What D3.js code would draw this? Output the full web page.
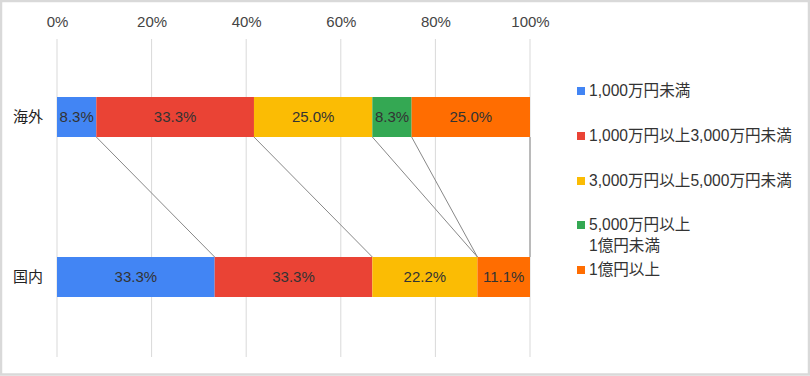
<!DOCTYPE html>
<html>
<head>
<meta charset="utf-8">
<script src="https://cdn.jsdelivr.net/npm/d3@7"></script>
<style>
  body { margin: 0; background: #fff; }
  svg { display: block; font-family: "Liberation Sans", Arial, "Noto Sans CJK JP", sans-serif; }
</style>
</head>
<body>
<svg id="chart"></svg>
<script>
// data
let categories = ['海外', '国内'];
let seriesNames = ['1,000万円未満', '1,000万円以上3,000万円未満', '3,000万円以上5,000万円未満', '5,000万円以上\n1億円未満', '1億円以上'];
let seriesColors = ['#4285f4', '#ea4335', '#fbbc04', '#34a853', '#ff6d01'];
let overseas = [8.3, 33.3, 25.0, 8.3, 25.0];
let domestic = [33.3, 33.3, 22.2, 0, 11.1];
let tickValues = [0, 20, 40, 60, 80, 100];

let svgWidth = 810;
let svgHeight = 376;

let svg = d3.select('#chart')
    .attr('width', svgWidth)
    .attr('height', svgHeight);

// outer frame
svg.append('rect')
    .attr('x', 1).attr('y', 1)
    .attr('width', svgWidth - 2).attr('height', svgHeight - 2.5)
    .attr('fill', '#fff')
    .attr('stroke', '#d9d9d9')
    .attr('stroke-width', 2.5);

let x = d3.scaleLinear().domain([0, 100]).range([57, 530]);
let y = d3.scaleBand().domain(categories)
    .range([37, 357])
    .paddingInner(0.75)
    .paddingOuter(0.375);

// build stacked rows (normalised to 100%)
let rows = [overseas, domestic].map(function(vals, i) {
    let total = d3.sum(vals);
    let acc = 0;
    return vals.map(function(v, j) {
        let s = acc;
        acc += v / total * 100;
        return {cat: categories[i], series: j, value: v, x0: s, x1: acc};
    });
});

// gridlines
svg.append('g').selectAll('line')
    .data(tickValues).enter().append('line')
    .attr('x1', d => x(d)).attr('x2', d => x(d))
    .attr('y1', 39).attr('y2', 357)
    .attr('stroke', '#d9d9d9')
    .attr('stroke-width', 1);

// top axis labels
let axsTop = d3.axisTop(x).tickValues(tickValues).tickFormat(d => d + '%').tickSize(0).tickPadding(0);
let gAxis = svg.append('g')
    .attr('transform', 'translate(0,27)')
    .call(axsTop);
gAxis.select('.domain').remove();
gAxis.selectAll('text')
    .attr('font-size', 15)
    .attr('font-family', null)
    .attr('fill', '#444');

// category labels
svg.append('g').selectAll('text')
    .data(categories).enter().append('text')
    .attr('x', 43)
    .attr('y', d => y(d) + y.bandwidth() / 2)
    .attr('dy', '0.35em')
    .attr('text-anchor', 'end')
    .attr('font-size', 15)
    .attr('fill', '#222')
    .text(d => d);

// connector lines between bars
let connectors = d3.range(seriesNames.length).map(j => [rows[0][j].x1, rows[1][j].x1]);
svg.append('g').selectAll('line')
    .data(connectors).enter().append('line')
    .attr('x1', d => x(d[0]))
    .attr('y1', y(categories[0]) + y.bandwidth())
    .attr('x2', d => x(d[1]))
    .attr('y2', y(categories[1]))
    .attr('stroke', '#888')
    .attr('stroke-width', 1);

// bars
let gBars = svg.append('g');
rows.forEach(function(row) {
    let segs = row.filter(d => d.value > 0);
    gBars.selectAll(null)
        .data(segs).enter().append('rect')
        .attr('x', d => x(d.x0))
        .attr('y', d => y(d.cat))
        .attr('width', d => x(d.x1) - x(d.x0))
        .attr('height', y.bandwidth())
        .attr('fill', d => seriesColors[d.series]);

    gBars.selectAll(null)
        .data(segs).enter().append('text')
        .attr('x', d => (x(d.x0) + x(d.x1)) / 2)
        .attr('y', d => y(d.cat) + y.bandwidth() / 2)
        .attr('dy', '0.35em')
        .attr('text-anchor', 'middle')
        .attr('font-size', 15)
        .attr('fill', '#333')
        .text(d => d.value.toFixed(1) + '%');
});

// legend
let legendY = [91, 136, 181, 225, 270];
let gLegend = svg.append('g');
seriesNames.forEach(function(name, j) {
    let g = gLegend.append('g').attr('transform', 'translate(577,' + legendY[j] + ')');
    g.append('rect')
        .attr('x', 0).attr('y', -4)
        .attr('width', 8).attr('height', 8)
        .attr('fill', seriesColors[j]);
    let t = g.append('text')
        .attr('x', 12)
        .attr('font-size', 15.6)
        .attr('fill', '#333');
    name.split('\n').forEach(function(line, k) {
        t.append('tspan')
            .attr('x', 12)
            .attr('y', k * 21)
            .attr('dy', '0.35em')
            .text(line);
    });
});
</script>
</body>
</html>
